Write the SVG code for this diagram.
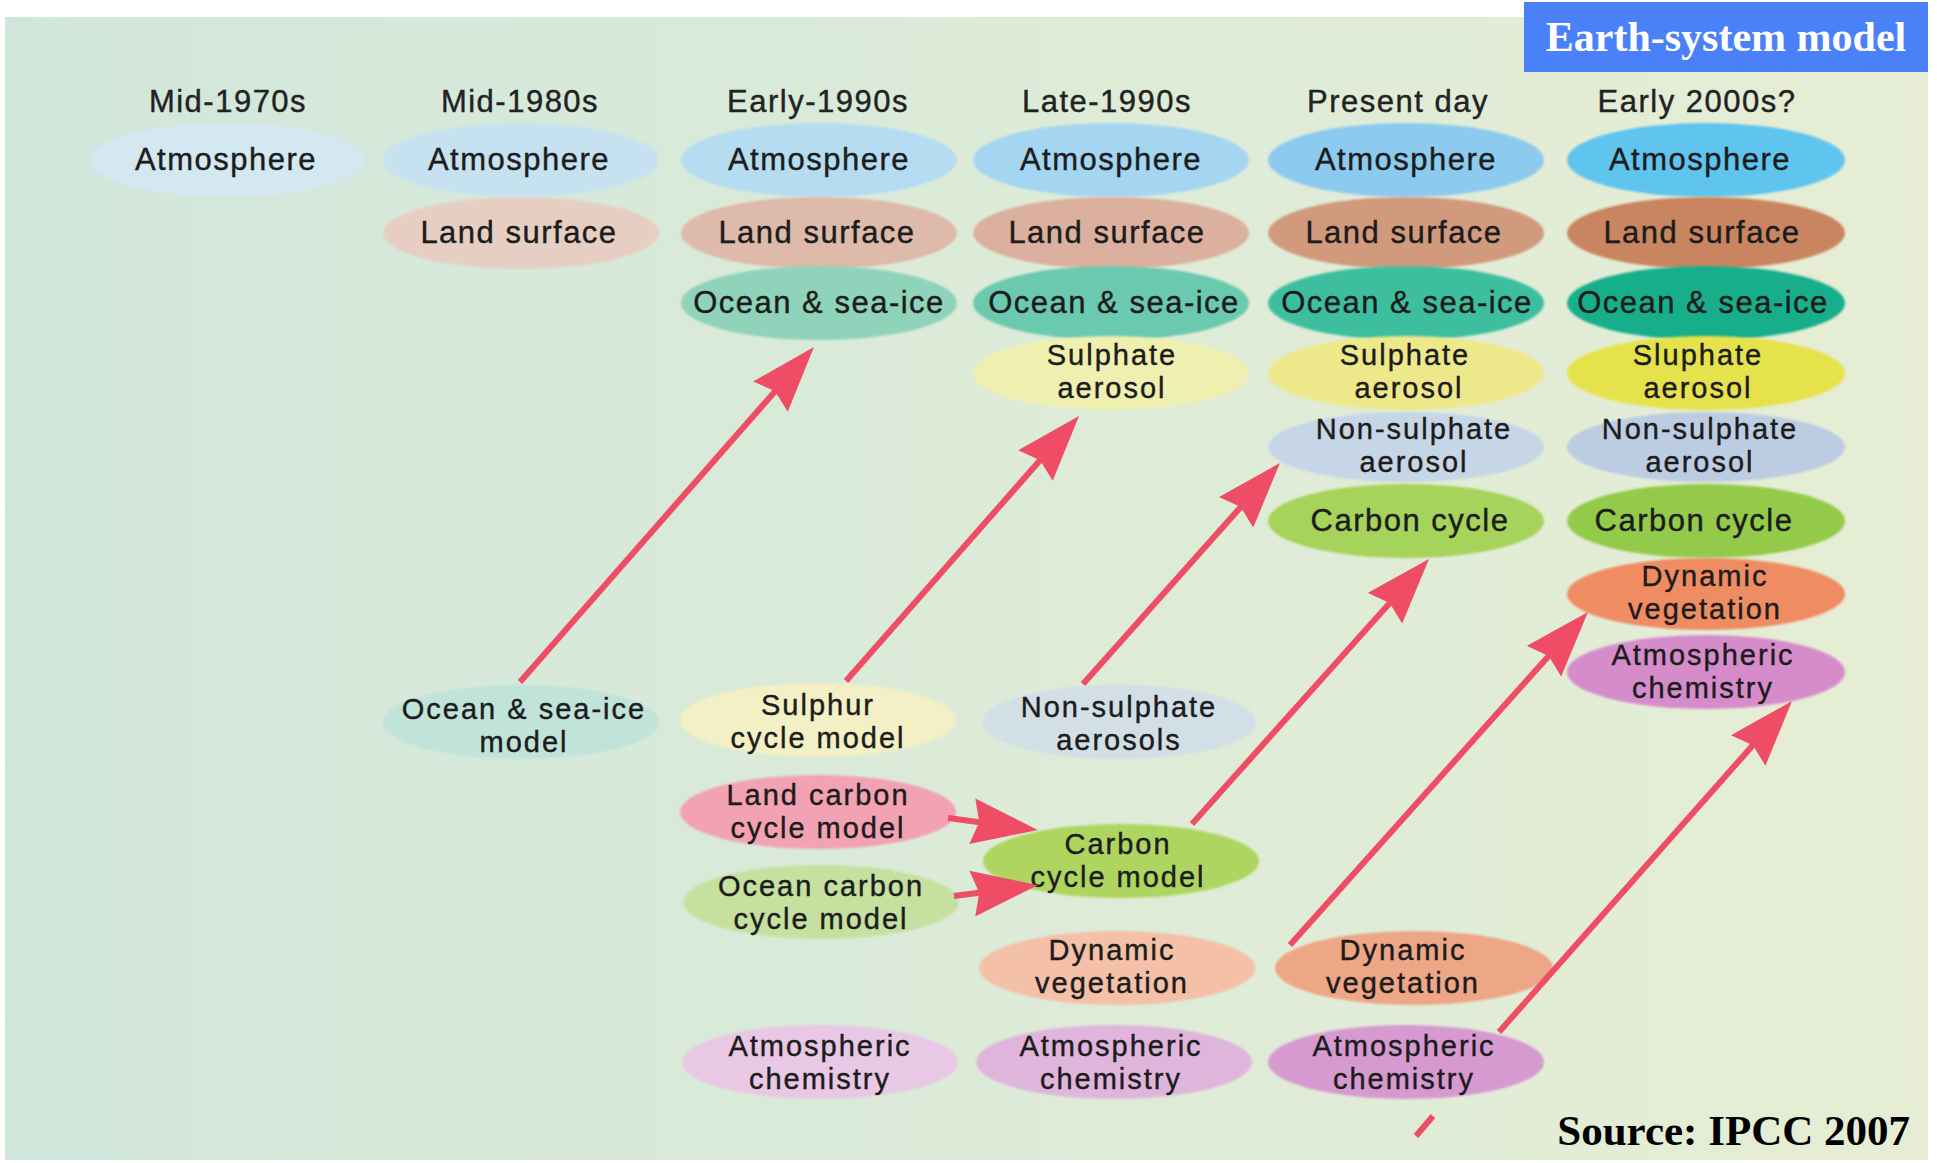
<svg xmlns="http://www.w3.org/2000/svg" width="1937" height="1163" viewBox="0 0 1937 1163">
<defs>
<linearGradient id="bg" x1="0" y1="0" x2="1" y2="0">
<stop offset="0" stop-color="#d1e6db"/>
<stop offset="0.5" stop-color="#dcebd8"/>
<stop offset="1" stop-color="#e6edd4"/>
</linearGradient>
<filter id="soft" x="-5%" y="-10%" width="110%" height="120%">
<feGaussianBlur stdDeviation="1.3"/>
</filter>
<marker id="ah" markerUnits="userSpaceOnUse" markerWidth="66" markerHeight="46" viewBox="0 0 66 46" refX="36" refY="23" orient="auto">
<path d="M0,0 L66,23 L0,46 L7,23 Z" fill="#ef4d66"/>
</marker>
<style>
.hd{font-family:"Liberation Sans",Arial,sans-serif;font-size:31px;fill:#222;stroke:#222;stroke-width:0.4px;text-anchor:middle;letter-spacing:1.5px}
.lb{font-family:"Liberation Sans",Arial,sans-serif;font-size:31px;fill:#1c1c1c;stroke:#1c1c1c;stroke-width:0.4px;text-anchor:middle;letter-spacing:1.5px}
.lb2{font-family:"Liberation Sans",Arial,sans-serif;font-size:29px;fill:#1c1c1c;stroke:#1c1c1c;stroke-width:0.4px;text-anchor:middle;letter-spacing:2px}
ellipse{filter:url(#soft)}
.ar{stroke:#ef4d66;stroke-width:6;fill:none;marker-end:url(#ah)}
.stub{stroke:#ef4d66;stroke-width:6;fill:none}
</style>
</defs>
<rect x="0" y="0" width="1937" height="1163" fill="#ffffff"/>
<rect x="5" y="17" width="1923" height="1143" fill="url(#bg)"/>

<g id="title">
<rect x="1524" y="2" width="404" height="70" fill="#4a80f8"/>
<text x="1726" y="51" font-family="Liberation Serif,'Times New Roman',serif" font-size="42" font-weight="bold" fill="#ffffff" text-anchor="middle">Earth-system model</text>
</g>
<g id="source">
<text x="1910" y="1145" font-family="Liberation Serif,'Times New Roman',serif" font-size="43" font-weight="bold" fill="#000000" text-anchor="end">Source: IPCC 2007</text>
</g>

<g id="headers">
<text class="hd" x="228" y="112">Mid-1970s</text>
<text class="hd" x="520" y="112">Mid-1980s</text>
<text class="hd" x="818" y="112">Early-1990s</text>
<text class="hd" x="1107" y="112">Late-1990s</text>
<text class="hd" x="1398" y="112">Present day</text>
<text class="hd" x="1697" y="112">Early 2000s?</text>
</g>

<!-- Column 1 -->
<g id="c1-atmosphere"><ellipse cx="228" cy="160" rx="137" ry="37" fill="#d4e8f2"/><text class="lb" x="226" y="170">Atmosphere</text></g>

<!-- Column 2 -->
<g id="c2-atmosphere"><ellipse cx="521" cy="160" rx="138" ry="37" fill="#c6e2f0"/><text class="lb" x="519" y="170">Atmosphere</text></g>
<g id="c2-land"><ellipse cx="521" cy="233" rx="138" ry="36" fill="#e6cfc2"/><text class="lb" x="519" y="243">Land surface</text></g>
<g id="c2-ocean-model"><ellipse cx="521" cy="722" rx="138" ry="37" fill="#c0e3da"/><text class="lb2" x="524" y="719">Ocean &amp; sea-ice</text><text class="lb2" x="524" y="752">model</text></g>

<!-- Column 3 -->
<g id="c3-atmosphere"><ellipse cx="819" cy="160" rx="138" ry="37" fill="#b6dcf2"/><text class="lb" x="819" y="170">Atmosphere</text></g>
<g id="c3-land"><ellipse cx="819" cy="233" rx="138" ry="36" fill="#ddbaa9"/><text class="lb" x="817" y="243">Land surface</text></g>
<g id="c3-ocean"><ellipse cx="819" cy="303" rx="138" ry="37" fill="#8ed3ba"/><text class="lb" x="819" y="313">Ocean &amp; sea-ice</text></g>
<g id="c3-sulphur-model"><ellipse cx="818" cy="720" rx="138" ry="37" fill="#f2f0c4"/><text class="lb2" x="818" y="715">Sulphur</text><text class="lb2" x="818" y="748">cycle model</text></g>
<g id="c3-land-carbon"><ellipse cx="818" cy="812" rx="138" ry="37" fill="#f2a2b2"/><text class="lb2" x="818" y="805">Land carbon</text><text class="lb2" x="818" y="838">cycle model</text></g>
<g id="c3-ocean-carbon"><ellipse cx="821" cy="902" rx="138" ry="37" fill="#c6e0a0"/><text class="lb2" x="821" y="896">Ocean carbon</text><text class="lb2" x="821" y="929">cycle model</text></g>
<g id="c3-atmchem"><ellipse cx="820" cy="1062" rx="138" ry="37" fill="#e8c8e4"/><text class="lb2" x="820" y="1056">Atmospheric</text><text class="lb2" x="820" y="1089">chemistry</text></g>

<!-- Column 4 -->
<g id="c4-atmosphere"><ellipse cx="1111" cy="160" rx="138" ry="37" fill="#a4d6f2"/><text class="lb" x="1111" y="170">Atmosphere</text></g>
<g id="c4-land"><ellipse cx="1111" cy="233" rx="138" ry="36" fill="#dbb09e"/><text class="lb" x="1107" y="243">Land surface</text></g>
<g id="c4-ocean"><ellipse cx="1111" cy="303" rx="138" ry="37" fill="#6bc9ae"/><text class="lb" x="1114" y="313">Ocean &amp; sea-ice</text></g>
<g id="c4-sulphate"><ellipse cx="1111" cy="373" rx="138" ry="37" fill="#efefb0"/><text class="lb2" x="1112" y="365">Sulphate</text><text class="lb2" x="1112" y="398">aerosol</text></g>
<g id="c4-nonsulphate"><ellipse cx="1119" cy="722" rx="137" ry="37" fill="#d2dfe6"/><text class="lb2" x="1119" y="717">Non-sulphate</text><text class="lb2" x="1119" y="750">aerosols</text></g>
<g id="c4-carbon-model"><ellipse cx="1121" cy="861" rx="138" ry="37" fill="#aed55e"/><text class="lb2" x="1118" y="854">Carbon</text><text class="lb2" x="1118" y="887">cycle model</text></g>
<g id="c4-dynveg"><ellipse cx="1117" cy="968" rx="138" ry="37" fill="#f5c0a8"/><text class="lb2" x="1112" y="960">Dynamic</text><text class="lb2" x="1112" y="993">vegetation</text></g>
<g id="c4-atmchem"><ellipse cx="1114" cy="1062" rx="138" ry="37" fill="#e0b5dc"/><text class="lb2" x="1111" y="1056">Atmospheric</text><text class="lb2" x="1111" y="1089">chemistry</text></g>

<!-- Column 5 -->
<g id="c5-atmosphere"><ellipse cx="1406" cy="160" rx="138" ry="37" fill="#8ccbef"/><text class="lb" x="1406" y="170">Atmosphere</text></g>
<g id="c5-land"><ellipse cx="1406" cy="233" rx="138" ry="36" fill="#d19a7c"/><text class="lb" x="1404" y="243">Land surface</text></g>
<g id="c5-ocean"><ellipse cx="1406" cy="303" rx="138" ry="37" fill="#3dbf9f"/><text class="lb" x="1407" y="313">Ocean &amp; sea-ice</text></g>
<g id="c5-sulphate"><ellipse cx="1406" cy="373" rx="138" ry="37" fill="#ede98a"/><text class="lb2" x="1405" y="365">Sulphate</text><text class="lb2" x="1409" y="398">aerosol</text></g>
<g id="c5-nonsulphate"><ellipse cx="1406" cy="447" rx="138" ry="35" fill="#c6d6e6"/><text class="lb2" x="1414" y="439">Non-sulphate</text><text class="lb2" x="1414" y="472">aerosol</text></g>
<g id="c5-carbon"><ellipse cx="1406" cy="521" rx="138" ry="37" fill="#a6d35a"/><text class="lb" x="1410" y="531">Carbon cycle</text></g>
<g id="c5-dynveg"><ellipse cx="1414" cy="968" rx="139" ry="37" fill="#eda686"/><text class="lb2" x="1403" y="960">Dynamic</text><text class="lb2" x="1403" y="993">vegetation</text></g>
<g id="c5-atmchem"><ellipse cx="1406" cy="1062" rx="138" ry="37" fill="#d69ad0"/><text class="lb2" x="1404" y="1056">Atmospheric</text><text class="lb2" x="1404" y="1089">chemistry</text></g>

<!-- Column 6 -->
<g id="c6-atmosphere"><ellipse cx="1706" cy="160" rx="139" ry="37" fill="#5ec4ee"/><text class="lb" x="1700" y="170">Atmosphere</text></g>
<g id="c6-land"><ellipse cx="1706" cy="233" rx="139" ry="36" fill="#c9855f"/><text class="lb" x="1702" y="243">Land surface</text></g>
<g id="c6-ocean"><ellipse cx="1706" cy="303" rx="139" ry="37" fill="#19ae8b"/><text class="lb" x="1703" y="313">Ocean &amp; sea-ice</text></g>
<g id="c6-sulphate"><ellipse cx="1706" cy="373" rx="139" ry="37" fill="#e6e24c"/><text class="lb2" x="1698" y="365">Sluphate</text><text class="lb2" x="1698" y="398">aerosol</text></g>
<g id="c6-nonsulphate"><ellipse cx="1706" cy="447" rx="139" ry="35" fill="#bccce2"/><text class="lb2" x="1700" y="439">Non-sulphate</text><text class="lb2" x="1700" y="472">aerosol</text></g>
<g id="c6-carbon"><ellipse cx="1706" cy="521" rx="139" ry="37" fill="#94ca48"/><text class="lb" x="1694" y="531">Carbon cycle</text></g>
<g id="c6-dynveg"><ellipse cx="1706" cy="594" rx="139" ry="36" fill="#ef8c62"/><text class="lb2" x="1705" y="586">Dynamic</text><text class="lb2" x="1705" y="619">vegetation</text></g>
<g id="c6-atmchem"><ellipse cx="1706" cy="672" rx="139" ry="37" fill="#d68ccb"/><text class="lb2" x="1703" y="665">Atmospheric</text><text class="lb2" x="1703" y="698">chemistry</text></g>

<g id="connectors">
<line class="ar" x1="520" y1="682" x2="794.2" y2="369.5"/>
<line class="ar" x1="846" y1="681" x2="1059.2" y2="438.5"/>
<line class="ar" x1="1083" y1="684" x2="1260.0" y2="485.4"/>
<line class="ar" x1="1192" y1="824" x2="1409.0" y2="581.4"/>
<line class="ar" x1="1290" y1="945" x2="1568.0" y2="634.4"/>
<line class="ar" x1="1499" y1="1032" x2="1772.1" y2="723.5"/>
<line class="ar" x1="948" y1="818" x2="1008" y2="826"/>
<line class="ar" x1="954" y1="896" x2="1008" y2="889"/>
<line class="stub" x1="1433" y1="1116" x2="1416" y2="1136"/>
</g>
</svg>
